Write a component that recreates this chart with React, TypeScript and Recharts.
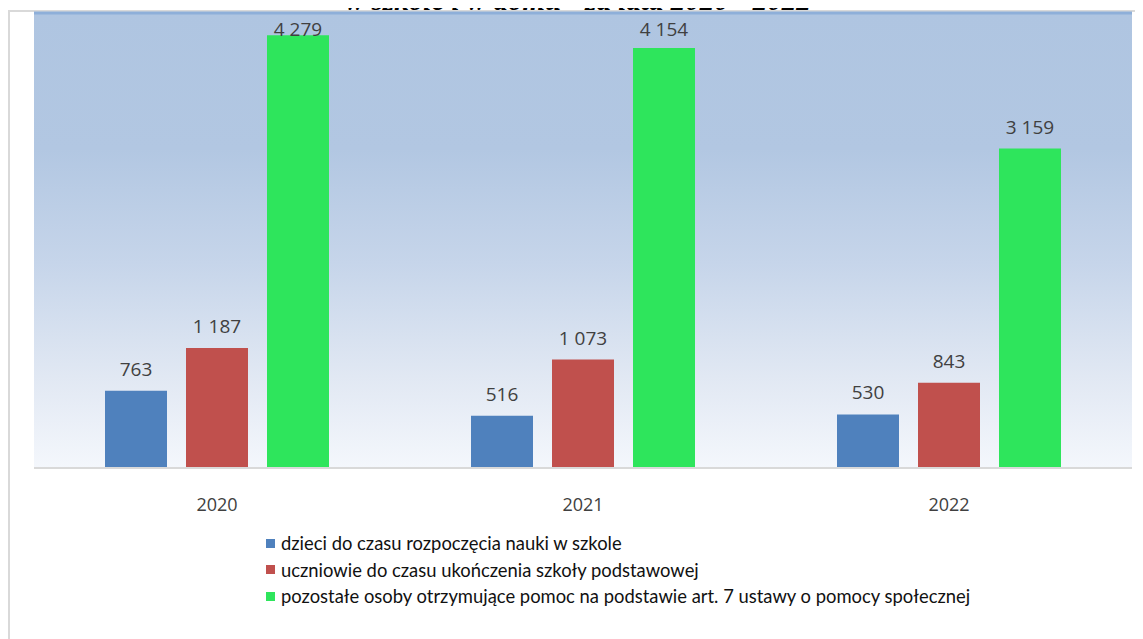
import { Bar, BarChart, CartesianGrid, LabelList, Legend, ReferenceLine, XAxis, YAxis } from "recharts"

const YEARS = ["2020", "2021", "2022"]
const DZIECI = [763, 516, 530]
const UCZNIOWIE = [1187, 1073, 843]
const POZOSTALE = [4279, 4154, 3159]

const SERIES = [
  { key: "dzieci", name: "dzieci do czasu rozpoczęcia nauki w szkole", color: "#4f81bd" },
  { key: "uczniowie", name: "uczniowie do czasu ukończenia szkoły podstawowej", color: "#c0504d" },
  { key: "pozostale", name: "pozostałe osoby otrzymujące pomoc na podstawie art. 7 ustawy o pomocy społecznej", color: "#2ee55c" },
]

const data = YEARS.map((year, i) => ({
  year,
  dzieci: DZIECI[i],
  uczniowie: UCZNIOWIE[i],
  pozostale: POZOSTALE[i],
}))

const INK = "#404040"
const NUM_FONT = "'Open Sans', sans-serif"

// separator tysięcy jak w Excelu: spacja
const fmt = (v: number) => String(v).replace(/\B(?=(\d{3})+(?!\d))/g, " ")

// Excel dosuwa etykiety do górnej krawędzi obszaru wykresu, gdy brakuje miejsca
function TopLabel(props: any) {
  const { x, y, width, value } = props
  const baseline = Math.max(Number(y) - 15, 36)
  return (
    <text x={Number(x) + Number(width) / 2} y={baseline} textAnchor="middle" fill={INK} fontSize={19} fontFamily={NUM_FONT}>
      {fmt(Number(value))}
    </text>
  )
}

function LegendBox({ payload }: { payload?: Array<{ value: string; color: string }> }) {
  const items = [...(payload ?? [])].sort(
    (a, b) => SERIES.findIndex((s) => s.name === a.value) - SERIES.findIndex((s) => s.name === b.value),
  )
  return (
    <div style={{ fontFamily: "Lato, sans-serif", fontSize: 18.4, color: "#111" }}>
      {items.map((p) => (
        <div key={p.value} style={{ display: "flex", alignItems: "center", height: 26.5, whiteSpace: "nowrap" }}>
          <span style={{ width: 9, height: 9, background: p.color, marginRight: 6, display: "inline-block" }} />
          {p.value}
        </div>
      ))}
    </div>
  )
}

export default function App() {
  return (
    <div style={{ position: "relative", width: 1143, height: 639, margin: "-8px 0 0 -8px", overflow: "hidden", background: "#fff" }}>
      <div style={{ position: "absolute", left: 8, top: 10, right: 0, bottom: 0, borderTop: "2px solid #d9d9d9", borderLeft: "2px solid #d9d9d9" }} />
      <div style={{ position: "absolute", left: 0, top: 0 }}>
        <BarChart
          width={1143}
          height={639}
          data={data}
          margin={{ top: 13, right: 11, bottom: 141, left: 34 }}
          barGap={19}
          barCategoryGap={71}
        >
          <defs>
            <linearGradient id="plotBg" x1="0" y1="0" x2="0" y2="1">
              <stop offset="0" stopColor="#afc5e1" />
              <stop offset="0.3" stopColor="#b2c7e2" />
              <stop offset="0.55" stopColor="#c6d5ea" />
              <stop offset="0.8" stopColor="#e1e8f3" />
              <stop offset="1" stopColor="#f4f7fc" />
            </linearGradient>
          </defs>
          <CartesianGrid fill="url(#plotBg)" horizontal={false} vertical={false} />
          <XAxis
            dataKey="year"
            height={30}
            tickLine={false}
            tickSize={0}
            tickMargin={30}
            axisLine={{ stroke: "#d9d9d9", strokeWidth: 2 }}
            tick={{ fill: INK, fontSize: 18, fontFamily: NUM_FONT }}
          />
          <YAxis hide domain={[0, 4500]} />
          <ReferenceLine y={4500} stroke="#8eafd9" strokeWidth={3} ifOverflow="extendDomain" />
          {SERIES.map((s) => (
            <Bar key={s.key} dataKey={s.key} name={s.name} fill={s.color} isAnimationActive={false}>
              <LabelList dataKey={s.key} content={TopLabel} />
            </Bar>
          ))}
          <Legend
            layout="horizontal"
            verticalAlign="middle"
            align="center"
            content={<LegendBox />}
            wrapperStyle={{ left: 266, top: 530, width: 760, height: 80 }}
          />
        </BarChart>
      </div>
      {/* tytuł ucięty u góry, jak na zrzucie */}
      <svg width={1143} height={14} style={{ position: "absolute", left: 0, top: 0, display: "block" }}>
        <text
          x={578}
          y={10}
          textAnchor="middle"
          fontFamily="Liberation Serif, serif"
          fontWeight="bold"
          fontStyle="italic"
          fontSize={29}
          fill="#000"
        >
          w szkole i w domu - za lata 2020 - 2022
        </text>
      </svg>
    </div>
  )
}
